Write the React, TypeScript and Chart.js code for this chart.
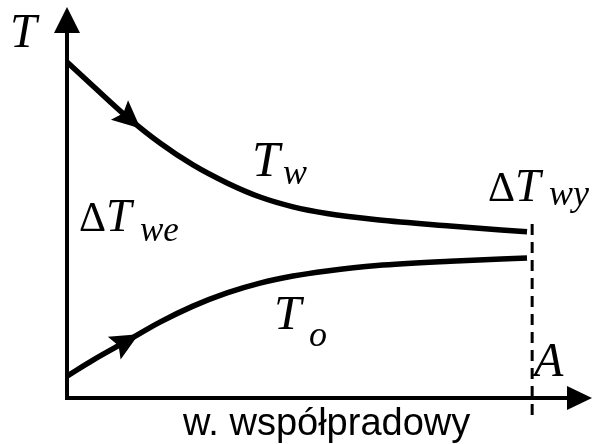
import { useEffect, useRef } from 'react';
import { Chart, registerables } from 'chart.js';

Chart.register(...registerables);

// Position along the exchanger (0 = inlet, 100 = end of the x axis)
const xPos = [0, 4.95, 11.43, 17.71, 24.0, 30.48, 36.76, 43.05, 49.52, 59.05, 72.95, 87.62];
// Hot medium temperature T_w
const hotSide = [85.9, 79.8, 71.9, 65.2, 59.6, 55.0, 51.4, 48.9, 47.2, 45.6, 44.0, 42.5];
// Cold medium temperature T_o
const coldSide = [5.6, 9.7, 14.6, 19.4, 23.5, 26.9, 29.4, 31.2, 32.5, 33.9, 35.0, 35.8];
// Heat exchange surface end A and the vertical marker span
const areaEnd = 88.6;
const markerSpan = [44.5, -5.2];
// Flow direction arrows placed on each curve (x positions)
const hotArrowAt = 10.0;
const coldArrowAt = 9.0;

const SERIF = '"Liberation Serif", "Times New Roman", serif';
const SANS = '"Liberation Sans", Arial, sans-serif';

function interp(xs: number[], ys: number[], x: number) {
  for (let i = 0; i < xs.length - 1; i++) {
    if (x >= xs[i] && x <= xs[i + 1]) {
      const t = (x - xs[i]) / (xs[i + 1] - xs[i]);
      return ys[i] + t * (ys[i + 1] - ys[i]);
    }
  }
  return ys[ys.length - 1];
}

const diagramPlugin = {
  id: 'diagram',
  afterDatasetsDraw(chart: any) {
    const { ctx, chartArea, scales } = chart;
    const xs = scales.x;
    const ys = scales.y;
    const x0 = xs.getPixelForValue(0);
    const y0 = ys.getPixelForValue(0);
    ctx.save();
    ctx.fillStyle = '#000';
    ctx.strokeStyle = '#000';

    // axes
    ctx.lineWidth = 4;
    ctx.beginPath();
    ctx.moveTo(x0, y0 + 2);
    ctx.lineTo(x0, chartArea.top + 20);
    ctx.moveTo(x0 - 2, y0);
    ctx.lineTo(chartArea.right - 20, y0);
    ctx.stroke();
    // axis arrowheads
    ctx.beginPath();
    ctx.moveTo(x0, chartArea.top);
    ctx.lineTo(x0 - 13, chartArea.top + 26);
    ctx.lineTo(x0 + 13, chartArea.top + 26);
    ctx.closePath();
    ctx.fill();
    ctx.beginPath();
    ctx.moveTo(chartArea.right, y0);
    ctx.lineTo(chartArea.right - 25, y0 - 12);
    ctx.lineTo(chartArea.right - 25, y0 + 12);
    ctx.closePath();
    ctx.fill();

    // flow arrows on curves
    const arrow = (values: number[], at: number) => {
      const px = xs.getPixelForValue(at);
      const py = ys.getPixelForValue(interp(xPos, values, at));
      const qx = xs.getPixelForValue(at + 2);
      const qy = ys.getPixelForValue(interp(xPos, values, at + 2));
      const len = Math.hypot(qx - px, qy - py);
      const ux = (qx - px) / len;
      const uy = (qy - py) / len;
      const L = 28;
      const W = 13;
      ctx.beginPath();
      ctx.moveTo(px + ux * L, py + uy * L);
      ctx.lineTo(px - uy * W, py + ux * W);
      ctx.lineTo(px + ux * 5, py + uy * 5);
      ctx.lineTo(px + uy * W, py - ux * W);
      ctx.closePath();
      ctx.fill();
    };
    arrow(hotSide, hotArrowAt);
    arrow(coldSide, coldArrowAt);

    // labels
    const text = (s: string, x: number, y: number, size: number, italic: boolean, family = SERIF) => {
      ctx.font = `${italic ? 'italic ' : ''}${size}px ${family}`;
      ctx.textBaseline = 'alphabetic';
      ctx.textAlign = 'left';
      ctx.fillText(s, x, y);
    };
    text('T', 10, 47, 48, true);

    text('\u0394', 79, 231, 42, false);
    text('T', 106, 231, 46, true);
    text('we', 140, 241, 35, true);

    text('T', 252, 176, 50, true);
    text('w', 283, 184, 36, true);

    text('\u0394', 488, 201, 42, false);
    text('T', 515, 201, 46, true);
    text('wy', 549, 205, 36, true);

    text('T', 274, 329, 49, true);
    text('o', 309, 346, 36, true);

    text('A', 534, 376, 48, true);

    text('w. współpradowy', 183, 435, 38, false, SANS);
    ctx.restore();
  },
};

export default function App() {
  const ref = useRef<HTMLCanvasElement | null>(null);
  useEffect(() => {
    if (!ref.current) return;
    const chart = new Chart(ref.current, {
      type: 'line',
      data: {
        datasets: [
          {
            label: 'T_w',
            data: xPos.map((x, i) => ({ x, y: hotSide[i] })),
            borderColor: '#000',
            borderWidth: 5.5,
            pointRadius: 0,
            cubicInterpolationMode: 'monotone',
            fill: false,
          },
          {
            label: 'T_o',
            data: xPos.map((x, i) => ({ x, y: coldSide[i] })),
            borderColor: '#000',
            borderWidth: 5.5,
            pointRadius: 0,
            cubicInterpolationMode: 'monotone',
            fill: false,
          },
          {
            label: 'A',
            data: markerSpan.map((y) => ({ x: areaEnd, y })),
            borderColor: '#000',
            borderWidth: 3,
            borderDash: [11, 7],
            pointRadius: 0,
            clip: false,
            fill: false,
          },
        ],
      },
      options: {
        responsive: false,
        animation: false,
        devicePixelRatio: 1,
        layout: { padding: { left: 67, right: 3, top: 7, bottom: 46 } },
        plugins: { legend: { display: false }, tooltip: { enabled: false } },
        scales: {
          x: { type: 'linear', min: 0, max: 100, display: false },
          y: { type: 'linear', min: 0, max: 100, display: false },
        },
      },
      plugins: [diagramPlugin],
    });
    return () => chart.destroy();
  }, []);
  return (
    <div style={{ position: 'fixed', left: 0, top: 0, width: 595, height: 444, background: '#fff' }}>
      <canvas ref={ref} width={595} height={444} />
    </div>
  );
}
